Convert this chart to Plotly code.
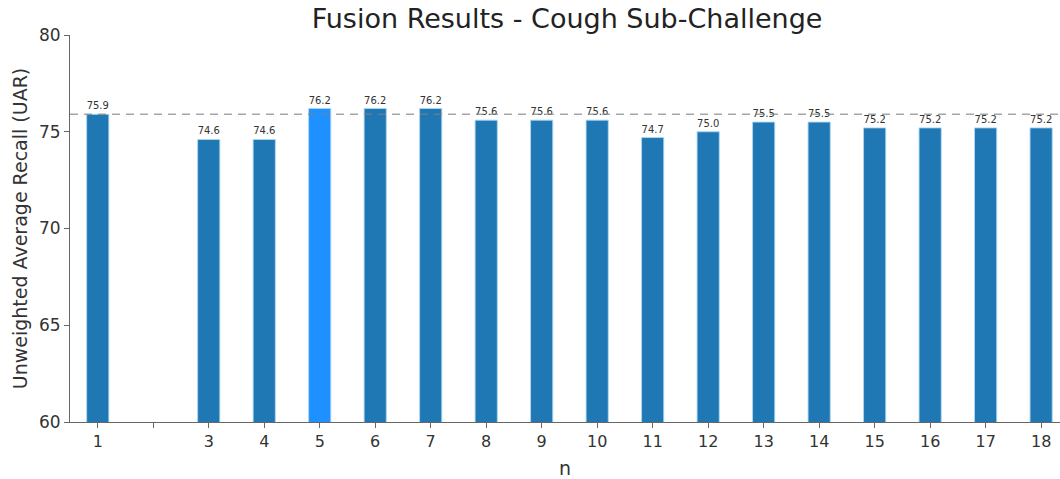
import plotly.graph_objects as go

n_vals = [1, 3, 4, 5, 6, 7, 8, 9, 10, 11, 12, 13, 14, 15, 16, 17, 18]
uar = [75.9, 74.6, 74.6, 76.2, 76.2, 76.2, 75.6, 75.6, 75.6, 74.7, 75.0, 75.5, 75.5, 75.2, 75.2, 75.2, 75.2]
highlight_n = 5
baseline = 75.9
tick_vals = list(range(1, 19))
tick_text = ["" if v == 2 else str(v) for v in tick_vals]

colors = ["#1e90ff" if n == highlight_n else "#1f77b4" for n in n_vals]

fig = go.Figure()
fig.add_trace(go.Bar(
    x=n_vals, y=uar, width=0.4,
    marker=dict(color=colors, line=dict(color="rgba(173,216,240,0.9)", width=1)),
    text=[f"{v:.1f}" for v in uar], textposition="outside",
    textfont=dict(size=10, color="#333"), cliponaxis=False,
))
fig.add_hline(y=baseline, line=dict(color="rgba(128,128,128,0.7)", width=1.5, dash="8px,6px"))

fig.update_layout(
    width=1060, height=479,
    margin=dict(l=70, r=0, t=35, b=57, autoexpand=False),
    plot_bgcolor="white", paper_bgcolor="white",
    font=dict(family="DejaVu Sans", color="#333"),
    title=dict(text="Fusion Results - Cough Sub-Challenge", x=0.535, xanchor="center",
               y=0.962, yanchor="middle", font=dict(size=27, color="#222")),
    showlegend=False,
    xaxis=dict(range=[0.5, 18.34], tickvals=tick_vals, ticktext=tick_text,
               showline=True, linecolor="#666", ticks="outside", ticklen=5, tickcolor="#666",
               showgrid=False, zeroline=False, tickfont=dict(size=16),
               title=dict(text="n", font=dict(size=19))),
    yaxis=dict(range=[60, 80], tickvals=[60, 65, 70, 75, 80],
               showline=True, linecolor="#666", ticks="outside", ticklen=5, tickcolor="#666",
               showgrid=False, zeroline=False, tickfont=dict(size=17),
               title=dict(text="Unweighted Average Recall (UAR)", font=dict(size=19), standoff=6)),
)
fig.write_html("out.html", config={"displayModeBar": False},
               post_script="document.body.style.margin='0';document.body.style.overflow='hidden';")
